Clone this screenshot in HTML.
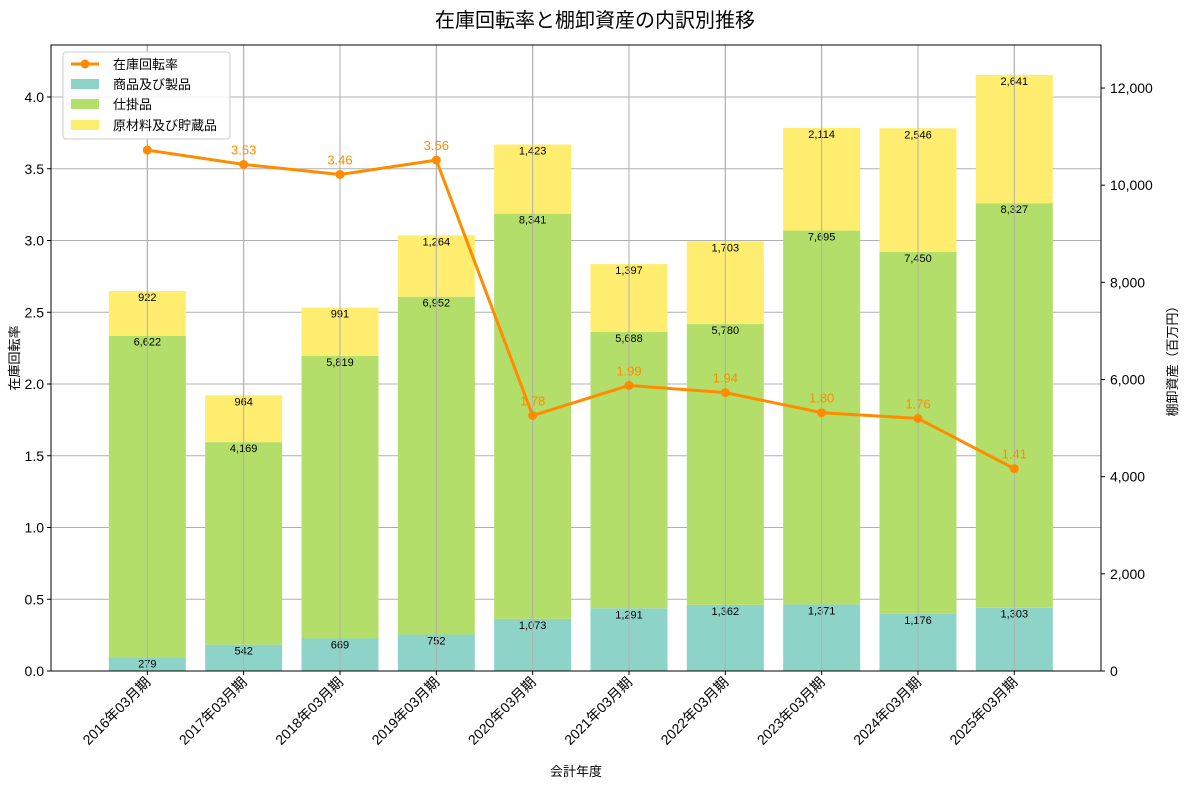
<!DOCTYPE html>
<html><head><meta charset="utf-8">
<style>
body{margin:0;background:#fff;font-family:"Liberation Sans","Noto Sans CJK JP",sans-serif;}
svg text{font-family:"Liberation Sans","Noto Sans CJK JP",sans-serif;}
</style></head>
<body>
<svg id="chart" width="1189" height="789" xmlns="http://www.w3.org/2000/svg">
<rect width="1189" height="789" fill="#fff"/>
<text x="595" y="27" text-anchor="middle" font-size="20" fill="#000">在庫回転率と棚卸資産の内訳別推移</text>
<g id="grid"></g>
<g id="bars"></g>
<g id="line"></g>
<g id="axes"></g>
<text x="576" y="776" text-anchor="middle" font-size="13">会計年度</text>
<text transform="translate(19,358) rotate(-90)" text-anchor="middle" font-size="13">在庫回転率</text>
<text transform="translate(1177,358) rotate(-90)" text-anchor="middle" font-size="13">棚卸資産（百万円）</text>
<g>
<rect x="63" y="52" width="167" height="87" fill="#fff" fill-opacity="0.85" stroke="#ccc" rx="3"/>
<line x1="71" y1="64" x2="99" y2="64" stroke="#ff8c00" stroke-width="3"/>
<circle cx="85" cy="64" r="4.5" fill="#ff8c00"/>
<text x="113" y="69" font-size="13">在庫回転率</text>
<rect x="71" y="79" width="28" height="10" fill="#8dd3c7"/>
<text x="113" y="89" font-size="13">商品及び製品</text>
<rect x="71" y="99" width="28" height="10" fill="#b3de69"/>
<text x="113" y="109" font-size="13">仕掛品</text>
<rect x="71" y="120" width="28" height="10" fill="#ffed6f"/>
<text x="113" y="130" font-size="13">原材料及び貯蔵品</text>
</g>
</svg>
<script>
const categories=["2016年03月期","2017年03月期","2018年03月期","2019年03月期","2020年03月期","2021年03月期","2022年03月期","2023年03月期","2024年03月期","2025年03月期"];
const products=[279,542,669,752,1073,1291,1362,1371,1176,1303];
const wip=[6622,4169,5819,6952,8341,5688,5780,7695,7450,8327];
const raw=[922,964,991,1264,1423,1397,1703,2114,2546,2641];
const turnover=[3.63,3.53,3.46,3.56,1.78,1.99,1.94,1.80,1.76,1.41];
const leftTicks=[0,0.5,1.0,1.5,2.0,2.5,3.0,3.5,4.0];
const rightTicks=[0,2000,4000,6000,8000,10000,12000];
const NS="http://www.w3.org/2000/svg";
const L=51,R=1101,T=45,B=671;
const xs=i=>L+(i+1)*(R-L)/10.9;
const yl=v=>B-v*143.5;
const yr=v=>B-v*0.04858;
function mk(p,tag,attrs,txt){const e=document.createElementNS(NS,tag);for(const k in attrs)e.setAttribute(k,attrs[k]);if(txt!==undefined)e.textContent=txt;p.appendChild(e);return e;}
const grid=document.getElementById('grid'),bars=document.getElementById('bars'),line=document.getElementById('line'),axes=document.getElementById('axes');
leftTicks.forEach(t=>{const g=mk(grid,'line',{x1:L,x2:R,y1:yl(t),y2:yl(t),stroke:'#b0b0b0','stroke-width':1});


const tl=mk(axes,'text',{x:L-7,y:yl(t)+5,'text-anchor':'end','font-size':14},t.toFixed(1));


mk(axes,'line',{x1:L-4,x2:L,y1:yl(t),y2:yl(t),stroke:'#000'});});
rightTicks.forEach(t=>{const tl=mk(axes,'text',{x:R+9,y:yr(t)+5,'font-size':14},t.toLocaleString('en-US'));


mk(axes,'line',{x1:R,x2:R+4,y1:yr(t),y2:yr(t),stroke:'#000'});});
const bw=77;
categories.forEach((c,i)=>{const x=xs(i);
const segs=[[0,products[i],'#8dd3c7','bar-products'],[products[i],products[i]+wip[i],'#b3de69','bar-wip'],[products[i]+wip[i],products[i]+wip[i]+raw[i],'#ffed6f','bar-raw']];
const vals=[products[i],wip[i],raw[i]];
segs.forEach((s,j)=>{const r=mk(bars,'rect',{x:x-bw/2,y:yr(s[1]),width:bw,height:yr(s[0])-yr(s[1]),fill:s[2]});


const t=mk(bars,'text',{x:x,y:yr(s[1])+10,'text-anchor':'middle','font-size':11},vals[j].toLocaleString('en-US'));

});
const gl=mk(grid,'line',{x1:x,x2:x,y1:T,y2:B,stroke:'#b0b0b0'});


bars.appendChild(gl.cloneNode());
mk(axes,'line',{x1:x,x2:x,y1:B,y2:B+4,stroke:'#000'});
const tl=mk(axes,'text',{transform:`translate(${x+4},${B+12}) rotate(-45)`,'text-anchor':'end','font-size':14},c);

});
const pl=mk(line,'polyline',{points:turnover.map((v,i)=>xs(i)+','+yl(v)).join(' '),fill:'none',stroke:'#ff8c00','stroke-width':3,'stroke-linejoin':'round'});


turnover.forEach((v,i)=>{const p=mk(line,'circle',{cx:xs(i),cy:yl(v),r:4.5,fill:'#ff8c00'});


if(i>0){const t=mk(line,'text',{x:xs(i),y:yl(v)-10,'text-anchor':'middle','font-size':13,fill:'#ff8c00'},v.toFixed(2));

}});
const fr=mk(axes,'rect',{x:L,y:T,width:R-L,height:B-T,fill:'none',stroke:'#000','stroke-width':1});


</script>
</body></html>
